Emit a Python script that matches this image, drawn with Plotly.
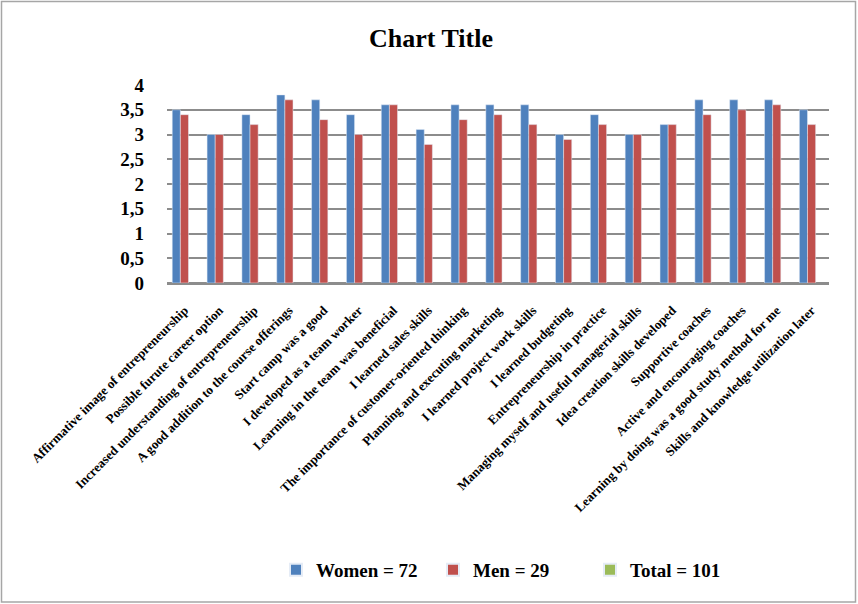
import plotly.graph_objects as go

categories = [
    "Affirmative image of entrepreneurship",
    "Possible furute career option",
    "Increased understanding of entrepreneurship",
    "A good addition to the course offerings",
    "Start camp was a good",
    "I developed as a team worker",
    "Learning in the team was beneficial",
    "I learned sales skills",
    "The importance of customer-oriented thinking",
    "Planning and executing marketing",
    "I learned project work skills",
    "I learned budgeting",
    "Entrepreneurship in practice",
    "Managing myself and useful managerial skills",
    "Idea creation skills developed",
    "Supportive coaches",
    "Active and encouraging coaches",
    "Learning by doing was a good study method for me",
    "Skills and knowledge utilization later",
]
women = [3.5, 3.0, 3.4, 3.8, 3.7, 3.4, 3.6, 3.1, 3.6, 3.6, 3.6, 3.0, 3.4, 3.0, 3.2, 3.7, 3.7, 3.7, 3.5]
men = [3.4, 3.0, 3.2, 3.7, 3.3, 3.0, 3.6, 2.8, 3.3, 3.4, 3.2, 2.9, 3.2, 3.0, 3.2, 3.4, 3.5, 3.6, 3.2]
total = [None] * len(categories)
series_names = ["Women = 72", "Men = 29", "Total = 101"]
tick_vals = [0, 0.5, 1, 1.5, 2, 2.5, 3, 3.5, 4]
tick_text = ["0", "0,5", "1", "1,5", "2", "2,5", "3", "3,5", "4"]

W, H = 858, 604
L, R, T, B = 167, 29, 85, 321
pw, ph = W - L - R, H - T - B

font_serif = "Liberation Serif, Times New Roman, serif"

fig = go.Figure()
fig.add_trace(go.Bar(name=series_names[0], x=categories, y=women, marker_color="#4F81BD"))
fig.add_trace(go.Bar(name=series_names[1], x=categories, y=men, marker_color="#C0504D"))
fig.add_trace(go.Bar(name=series_names[2], x=categories, y=total, marker_color="#9BBB59"))

def px_x(p):
    return (p - L) / pw

def px_y(p):
    return (H - B - p) / ph

fig.update_layout(
    width=W, height=H,
    margin=dict(l=L, r=R, t=T, b=B, autoexpand=False),
    paper_bgcolor="white", plot_bgcolor="white",
    barmode="group", bargap=0.3, bargroupgap=0.0,
    font=dict(family=font_serif, color="black"),
    title=dict(text="Chart Title", x=431 / W, xref="container", xanchor="center",
               y=1 - 38 / H, yref="container", yanchor="middle",
               font=dict(size=26, family=font_serif, color="black", weight="bold")),
    showlegend=True,
    legend=dict(orientation="h", x=276 / W, xref="container", xanchor="left",
                y=1 - 570 / H, yref="container", yanchor="middle",
                font=dict(size=19, family=font_serif, color="black", weight="bold"),
                entrywidth=112, itemsizing="constant",
                traceorder="normal"),
    xaxis=dict(
        tickangle=-45, tickfont=dict(size=13, family=font_serif, color="black", weight="bold"),
        showline=True, linecolor="#8c8c8c", linewidth=1.5,
        ticks="", showgrid=False, ticklabelstandoff=13,
    ),
    yaxis=dict(
        range=[0, 4], tickvals=tick_vals, ticktext=tick_text,
        tickfont=dict(size=19, family=font_serif, color="black", weight="bold"),
        showgrid=True, gridcolor="#8c8c8c", gridwidth=1.5,
        zeroline=True, zerolinecolor="#8c8c8c", zerolinewidth=1.5,
        ticks="", ticklabelstandoff=22, showline=False,
    ),
    shapes=[dict(type="rect", xref="paper", yref="paper",
                 x0=px_x(1.5), x1=px_x(855.5), y0=px_y(602), y1=px_y(1.5),
                 line=dict(color="#a6a6a6", width=1.5), fillcolor="rgba(0,0,0,0)",
                 layer="below")],
)

for tr in fig.data:
    tr.update(hoverinfo="skip")

fig.write_html("out.html")
